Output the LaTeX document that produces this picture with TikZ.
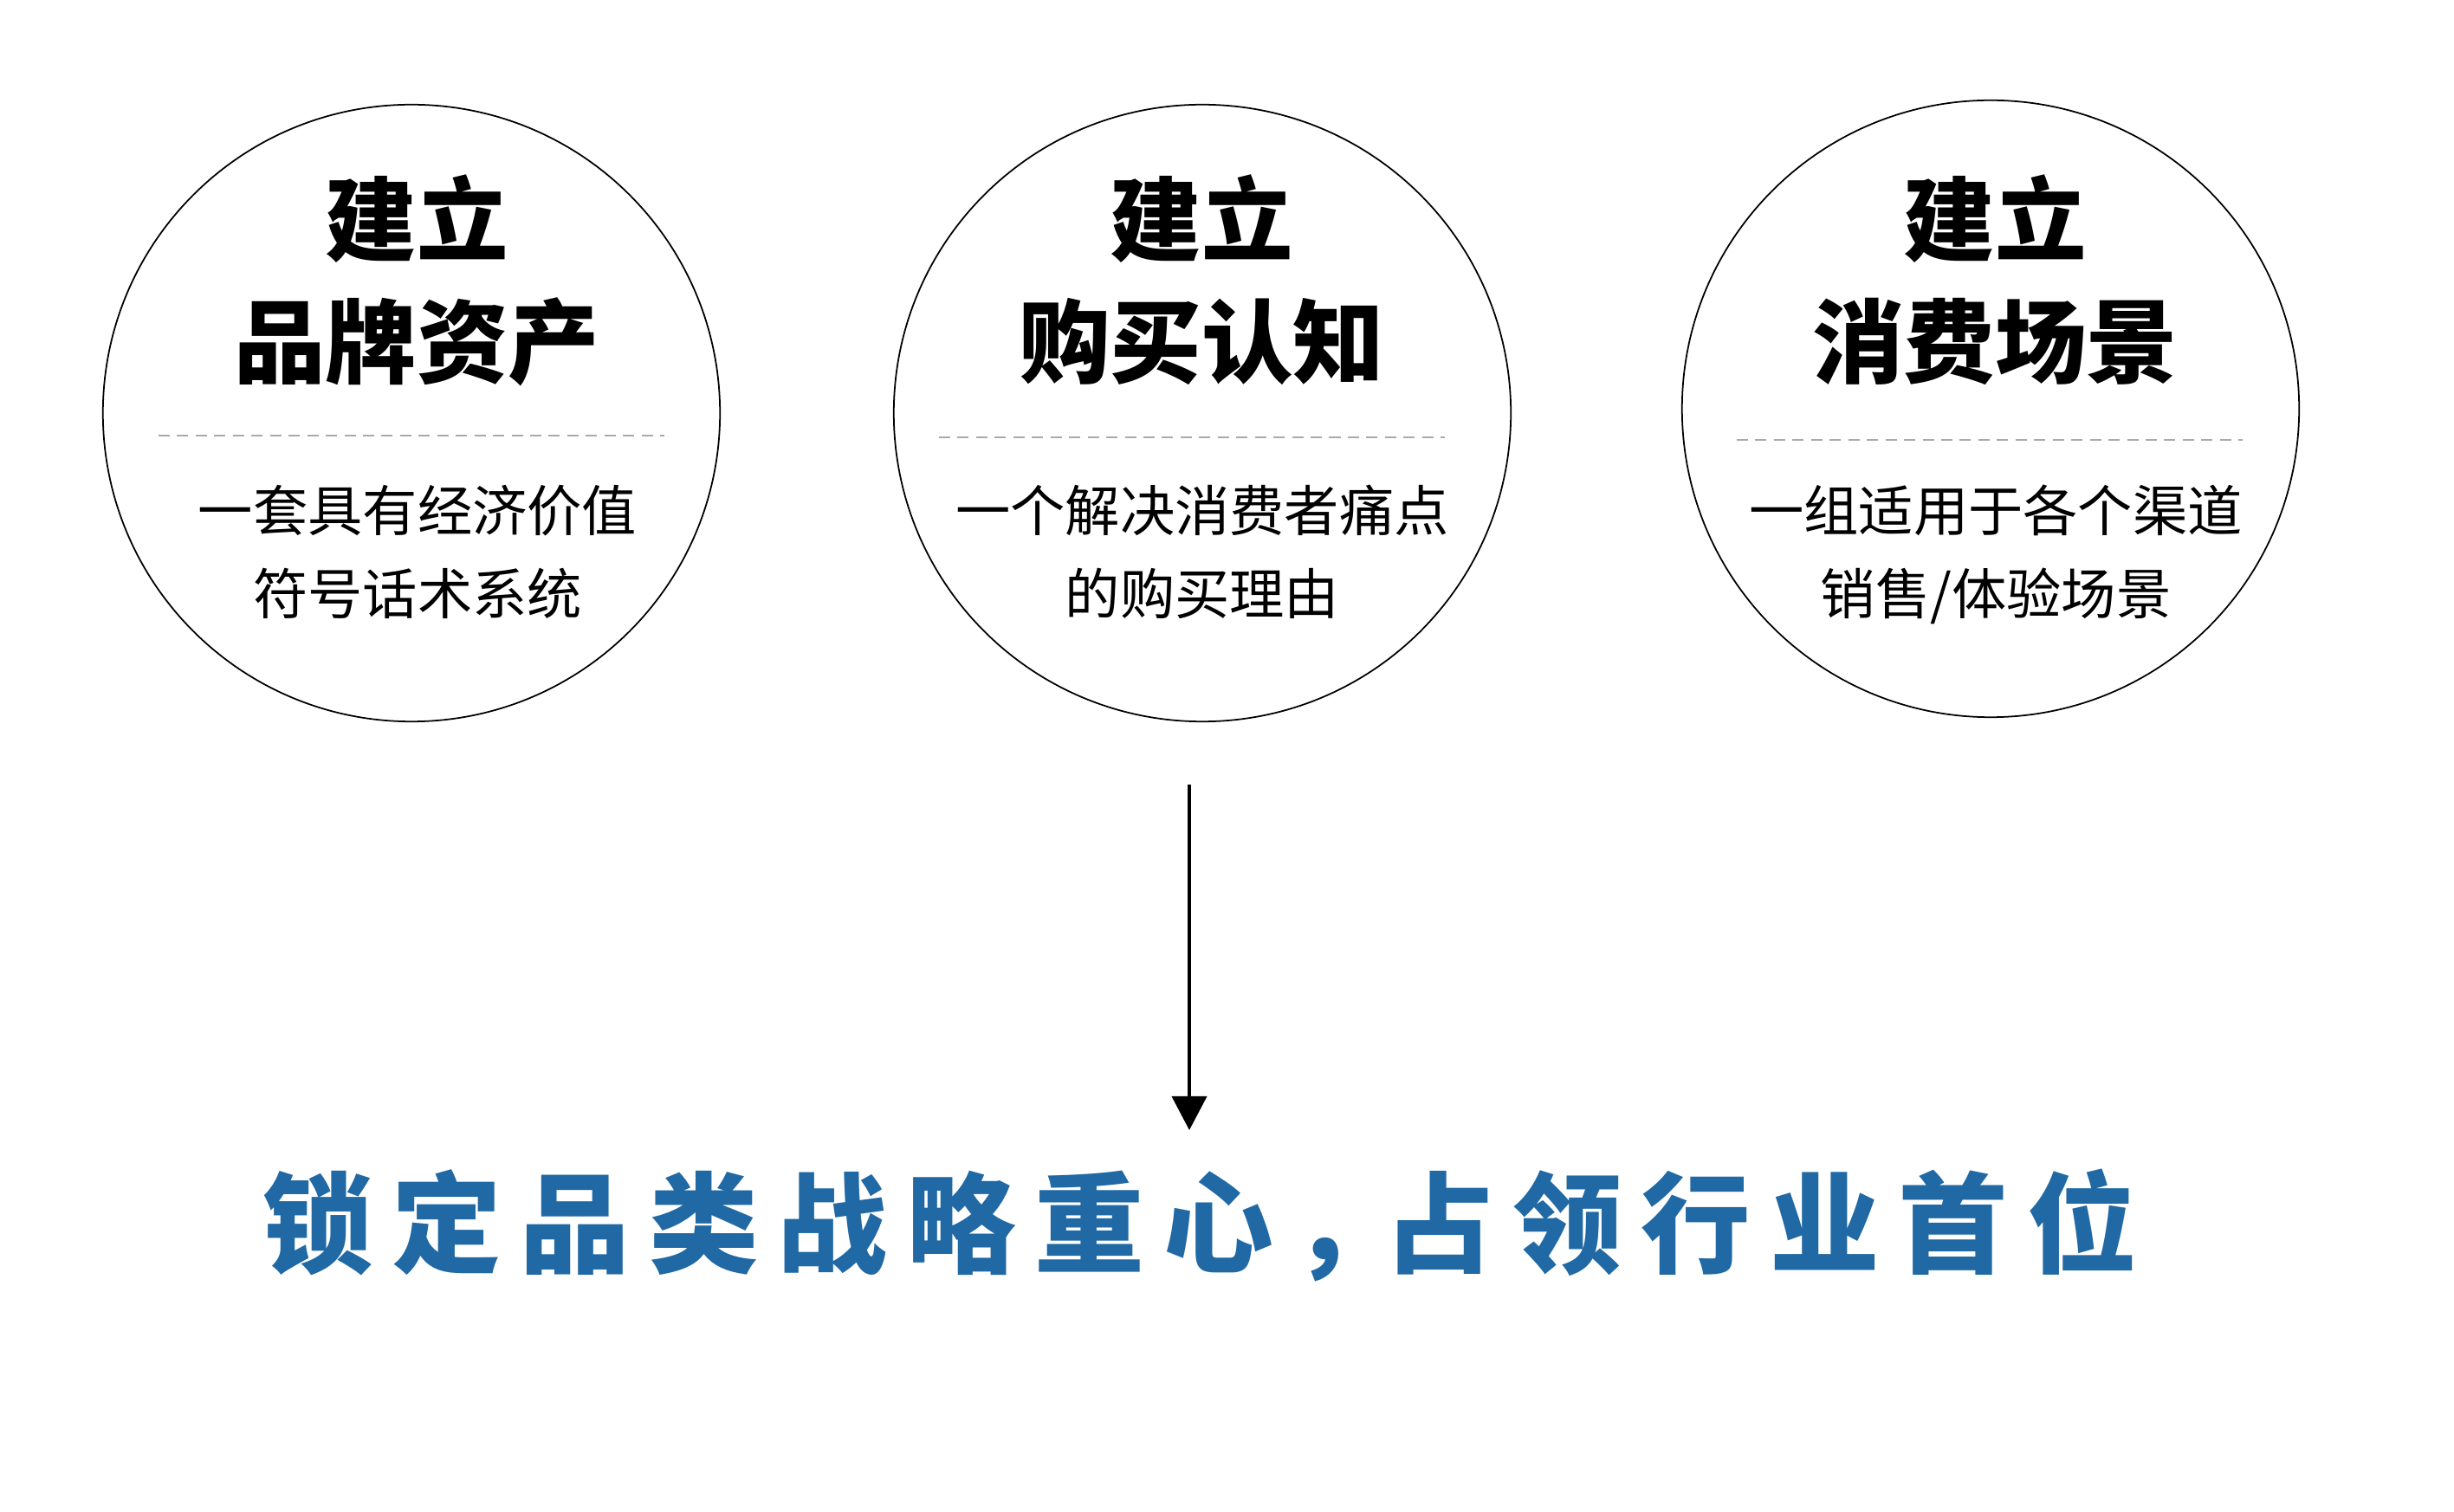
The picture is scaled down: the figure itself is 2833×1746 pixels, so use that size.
\documentclass[tikz,border=0pt]{standalone}
\usepackage{fontspec}
\setmainfont{Noto Sans CJK SC}
\usetikzlibrary{arrows.meta}
\definecolor{blueT}{RGB}{32,105,164}
\definecolor{dashgray}{RGB}{170,170,170}
\begin{document}
\begin{tikzpicture}[x=0.01cm,y=-0.01cm,
  ring/.style={draw=black, line width=0.5pt, circle, minimum size=7.12cm, inner sep=0pt},
  head/.style={font=\fontsize{30}{30}\selectfont\bfseries, anchor=base, inner sep=0pt},
  sub/.style={font=\fontsize{18}{18}\selectfont, anchor=base, inner sep=0pt},
  sep/.style={draw=dashgray, line width=0.7pt, dash pattern=on 3.7pt off 2.4pt},
  conn/.style={draw=black, line width=1.1pt, -{Triangle[width=0.4cm,length=0.39cm]}},
  slogan/.style={font=\fontsize{36}{36}\selectfont\bfseries\addfontfeature{LetterSpace=17.3}, text=blueT, anchor=base west, inner sep=0pt}
]
\useasboundingbox (0,0) rectangle (2833,1746);
\fill[white] (0,0) rectangle (2833,1746);

% circle 1
\node[ring] (c1) at (475,477) {};
\node[head] (h1a) at (481,294) {建立};
\node[head] (h1b) at (481,435) {品牌资产};
\coordinate (d1l) at (183,503);
\coordinate (d1r) at (767,503);
\draw[sep] (d1l) -- (d1r);
\node[sub] (s1a) at (482,614) {一套具有经济价值};
\node[sub] (s1b) at (482,709) {符号话术系统};

% circle 2
\node[ring] (c2) at (1388,477) {};
\node[head] (h2a) at (1387,294) {建立};
\node[head] (h2b) at (1387,435) {购买认知};
\coordinate (d2l) at (1084,505);
\coordinate (d2r) at (1668,505);
\draw[sep] (d2l) -- (d2r);
\node[sub] (s2a) at (1388,614) {一个解决消费者痛点};
\node[sub] (s2b) at (1388,709) {的购买理由};

% circle 3
\node[ring] (c3) at (2298,472) {};
\node[head] (h3a) at (2303,294) {建立};
\node[head] (h3b) at (2303,435) {消费场景};
\coordinate (d3l) at (2005,508);
\coordinate (d3r) at (2589,508);
\draw[sep] (d3l) -- (d3r);
\node[sub] (s3a) at (2304,614) {一组适用于各个渠道};
\node[sub] (s3b) at (2304,709) {销售/体验场景};

% arrow
\coordinate (a0) at (1373,906);
\coordinate (a1) at (1373,1305);
\draw[conn] (a0) -- (a1);

% slogan
\node[slogan] (bt) at (303,1460) {锁定品类战略重心，\kern-0.16em占领行业首位};
\end{tikzpicture}
\end{document}
